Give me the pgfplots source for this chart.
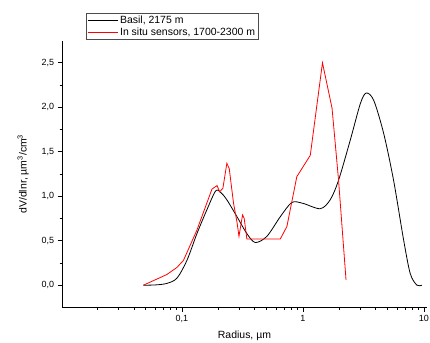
\documentclass[border=0pt]{standalone}
\usepackage{fontspec}
\setmainfont{Liberation Sans}
\usepackage{pgfplots}
\pgfplotsset{compat=1.18}
\begin{document}
\begin{tikzpicture}[x=1bp,y=1bp]
\useasboundingbox (-62,-36) rectangle (368,307);
\begin{axis}[
  at={(0,0)}, anchor=south west,
  scale only axis, width=365bp, height=266bp,
  xmode=log, xmin=0.0102, xmax=10.6,
  ymin=-0.245, ymax=2.745,
  axis x line*=bottom, axis y line*=left,
  axis line style={-, line width=0.6bp},
  tick align=outside,
  tick style={black, line width=0.6bp},
  major tick length=4.5bp, minor tick length=2.5bp,
  xtick={0.1,1,10}, xticklabels={{0,1},1,10},
  minor xtick={0.02,0.03,0.04,0.05,0.06,0.07,0.08,0.09,0.2,0.3,0.4,0.5,0.6,0.7,0.8,0.9,2,3,4,5,6,7,8,9},
  ytick={0,0.5,1,1.5,2,2.5},
  minor y tick num=1,
  yticklabel style={/pgf/number format/.cd, fixed, fixed zerofill, precision=1, use comma},
  /pgf/number format/assume math mode=true,
  tick label style={font=\fontsize{9}{10}\selectfont},
  xlabel={Radius, µm},
  ylabel={dV/dlnr, µm\textsuperscript{3}/cm\textsuperscript{3}},
  label style={font=\fontsize{10.5}{12}\selectfont},
  xlabel style={yshift=-2bp},
  ylabel style={yshift=6bp},
  legend style={at={(0.066,1.105)}, anchor=north west, draw=black!70, line width=0.5bp,
    font=\fontsize{10.5}{12}\selectfont, inner xsep=1bp, inner ysep=0.5bp, row sep=-1bp,
    cells={anchor=west}},
  legend image code/.code={\draw[#1] (0bp,0bp) -- (30bp,0bp);},
  clip=false,
]
\addplot[black, line width=0.8bp, smooth, tension=0.5] coordinates {
(0.048,0.00) (0.06,0.003) (0.075,0.02) (0.091,0.08) (0.11,0.28) (0.133,0.58)
(0.161,0.85) (0.19,1.06) (0.21,1.04) (0.235,0.96) (0.285,0.77) (0.344,0.58)
(0.404,0.48) (0.504,0.55) (0.65,0.77) (0.81,0.93) (1.0,0.92) (1.39,0.86)
(1.68,0.96) (1.97,1.18) (2.46,1.63) (2.98,2.04) (3.33,2.16) (3.84,2.08)
(4.64,1.71) (5.61,1.18) (6.79,0.51) (7.71,0.13) (8.75,0.00) (9.62,0.00)
};
\addlegendentry{Basil, 2175 m}
\addplot[red, line width=0.8bp] coordinates {
(0.048,0.00) (0.075,0.12) (0.091,0.20) (0.103,0.28) (0.133,0.62) (0.177,1.08)
(0.195,1.12) (0.205,1.05) (0.218,1.09) (0.235,1.37) (0.246,1.31) (0.267,0.92)
(0.285,0.71) (0.296,0.55) (0.317,0.79) (0.327,0.75) (0.344,0.52) (0.65,0.52)
(0.737,0.66) (0.89,1.22) (1.15,1.46) (1.45,2.50) (1.74,1.99) (1.97,1.18) (2.27,0.06)
};
\addlegendentry{In situ sensors, 1700-2300 m}
\end{axis}
\end{tikzpicture}
\end{document}
